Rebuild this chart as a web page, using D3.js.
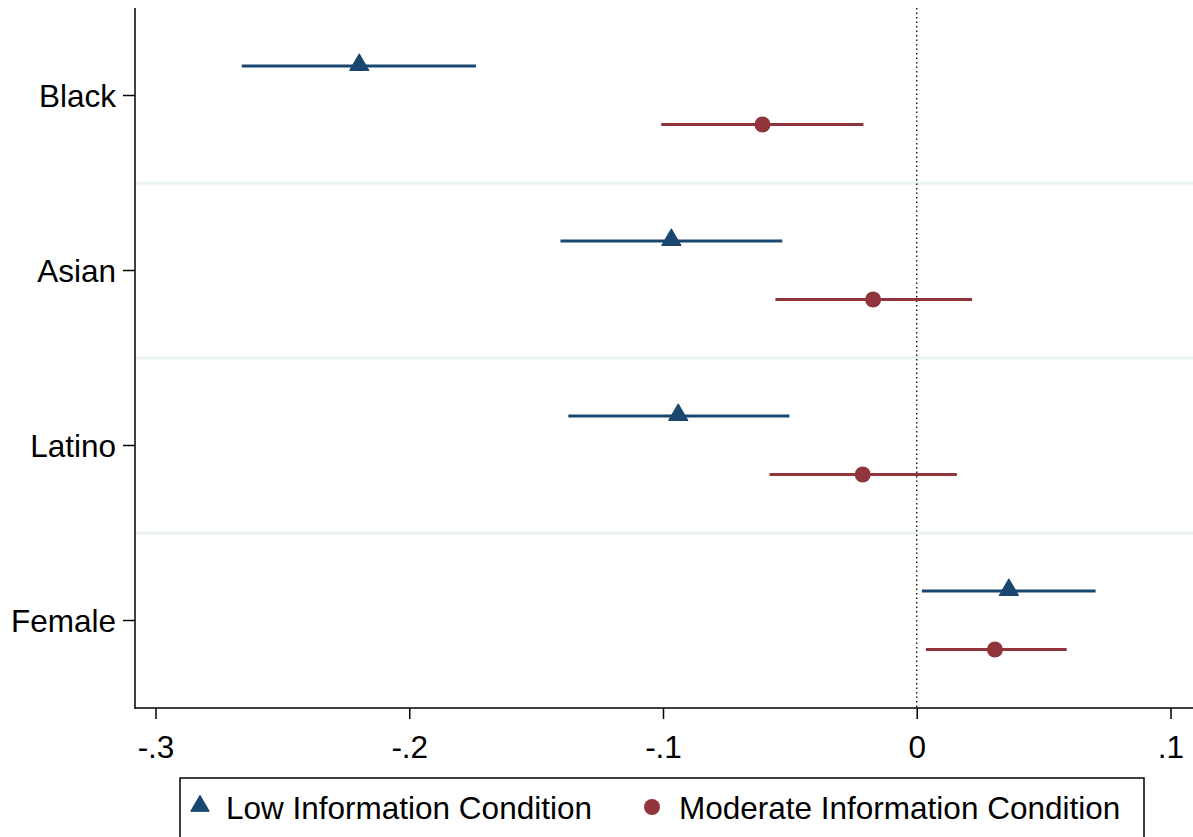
<!DOCTYPE html>
<html lang="en">
<head>
  <meta charset="UTF-8" />
  <title>Coefficient plot</title>
  <script src="https://d3js.org/d3.v7.min.js"></script>
  <style>
    body {
      margin: 0;
      background: #fff;
      font-family: 'Liberation Sans', Arial, sans-serif;
    }
    svg { display: block; }
  </style>
</head>
<body>
  <div id="chart"></div>

  <script>
    // Data
    const categories = ["Black", "Asian", "Latino", "Female"];
    const seriesNames = ["Low Information Condition", "Moderate Information Condition"];
    const lowEst = [-0.2197, -0.0967, -0.0940, 0.0363];
    const lowLo  = [-0.2660, -0.1404, -0.1373, 0.0020];
    const lowHi  = [-0.1737, -0.0530, -0.0502, 0.0705];
    const modEst = [-0.0608, -0.0172, -0.0213, 0.0308];
    const modLo  = [-0.1007, -0.0557, -0.0580, 0.0036];
    const modHi  = [-0.0210, 0.0218, 0.0158, 0.0591];
    const xTicks = [-0.3, -0.2, -0.1, 0, 0.1];
    const xTickLabels = ["-.3", "-.2", "-.1", "0", ".1"];

    const navy = "#1a476f", maroon = "#90353b";
    const width = 1193, height = 837;
    const plot = { left: 135, right: 1193, top: 8, bottom: 708 };
    const fontSize = "31.5px";

    const svg = d3.select("#chart")
      .append("svg")
      .attr("width", width)
      .attr("height", height);

    const x = d3.scaleLinear().domain([-0.3, 0.1]).range([155.5, 1170.5]);
    const y = d3.scaleBand().domain(categories).range([plot.top, plot.bottom]).padding(0);
    const ySub = d3.scalePoint().domain(["low", "mod"]).range([-29.5, 29]);

    // separators between categories
    svg.selectAll("line.sep")
      .data(categories.slice(1))
      .enter().append("line")
      .attr("x1", plot.left + 1).attr("x2", plot.right)
      .attr("y1", d => y(d)).attr("y2", d => y(d))
      .attr("stroke", "#eaf2f3")
      .attr("stroke-width", 3);

    // reference line at zero
    svg.append("line")
      .attr("x1", x(0)).attr("x2", x(0))
      .attr("y1", plot.top).attr("y2", plot.bottom)
      .attr("stroke", "#000")
      .attr("stroke-width", 1.3)
      .attr("stroke-dasharray", "1.5,3");

    // axes
    const xAxis = d3.axisBottom(x)
      .tickValues(xTicks)
      .tickFormat((d, i) => xTickLabels[i])
      .tickSize(11)
      .tickSizeOuter(0);
    const gx = svg.append("g")
      .attr("transform", `translate(0,${plot.bottom})`)
      .call(xAxis);
    gx.select(".domain").remove();
    gx.append("line")
      .attr("x1", plot.left).attr("x2", plot.right)
      .attr("stroke", "#000").attr("stroke-width", 1.5);
    gx.selectAll(".tick line").attr("stroke", "#000").attr("stroke-width", 1.5);
    gx.selectAll(".tick text")
      .attr("font-family", "'Liberation Sans', Arial, sans-serif")
      .attr("font-size", fontSize)
      .attr("fill", "#000")
      .attr("dy", "0")
      .attr("y", 50);

    const yAxis = d3.axisLeft(y).tickSize(12).tickSizeOuter(0);
    const gy = svg.append("g")
      .attr("transform", `translate(${plot.left},0)`)
      .call(yAxis);
    gy.select(".domain").remove();
    gy.append("line")
      .attr("y1", plot.top).attr("y2", plot.bottom + 1)
      .attr("stroke", "#000").attr("stroke-width", 1.5);
    gy.selectAll(".tick line").attr("stroke", "#000").attr("stroke-width", 1.5);
    gy.selectAll(".tick text")
      .attr("font-family", "'Liberation Sans', Arial, sans-serif")
      .attr("font-size", fontSize)
      .attr("fill", "#000")
      .attr("x", -19)
      .attr("dy", "0.36em");

    const rows = [];
    categories.forEach((c, i) => {
      rows.push({ cat: c, sub: "low", est: lowEst[i], lo: lowLo[i], hi: lowHi[i] });
      rows.push({ cat: c, sub: "mod", est: modEst[i], lo: modLo[i], hi: modHi[i] });
    });
    const cy = d => y(d.cat) + y.bandwidth() / 2 + ySub(d.sub);
    const col = d => d.sub === "low" ? navy : maroon;

    svg.selectAll("line.ci")
      .data(rows)
      .enter().append("line")
      .attr("x1", d => x(d.lo)).attr("x2", d => x(d.hi))
      .attr("y1", cy).attr("y2", cy)
      .attr("stroke", col)
      .attr("stroke-width", 3);

    const tri = d3.symbol().type(d3.symbolTriangle).size(150);

    svg.selectAll("path.low")
      .data(rows.filter(d => d.sub === "low"))
      .enter().append("path")
      .attr("d", tri)
      .attr("transform", d => `translate(${x(d.est)},${cy(d) - 1})`)
      .attr("fill", navy)
      .attr("stroke", navy)
      .attr("stroke-width", 1.5)
      .attr("stroke-linejoin", "round");

    svg.selectAll("circle.mod")
      .data(rows.filter(d => d.sub === "mod"))
      .enter().append("circle")
      .attr("cx", d => x(d.est))
      .attr("cy", cy)
      .attr("r", 8)
      .attr("fill", maroon);

    // legend
    const lg = svg.append("g");
    lg.append("rect")
      .attr("x", 180).attr("y", 778)
      .attr("width", 964).attr("height", 80)
      .attr("fill", "#fff")
      .attr("stroke", "#000")
      .attr("stroke-width", 1.5);
    lg.append("path")
      .attr("d", tri)
      .attr("transform", "translate(200,806)")
      .attr("fill", navy).attr("stroke", navy)
      .attr("stroke-width", 1).attr("stroke-linejoin", "round");
    lg.append("circle")
      .attr("cx", 652).attr("cy", 807).attr("r", 8)
      .attr("fill", maroon);
    lg.selectAll("text")
      .data(seriesNames)
      .enter().append("text")
      .attr("x", (d, i) => i === 0 ? 226 : 679)
      .attr("y", 819)
      .attr("font-size", fontSize)
      .attr("fill", "#000")
      .text(d => d);
  </script>
</body>
</html>
